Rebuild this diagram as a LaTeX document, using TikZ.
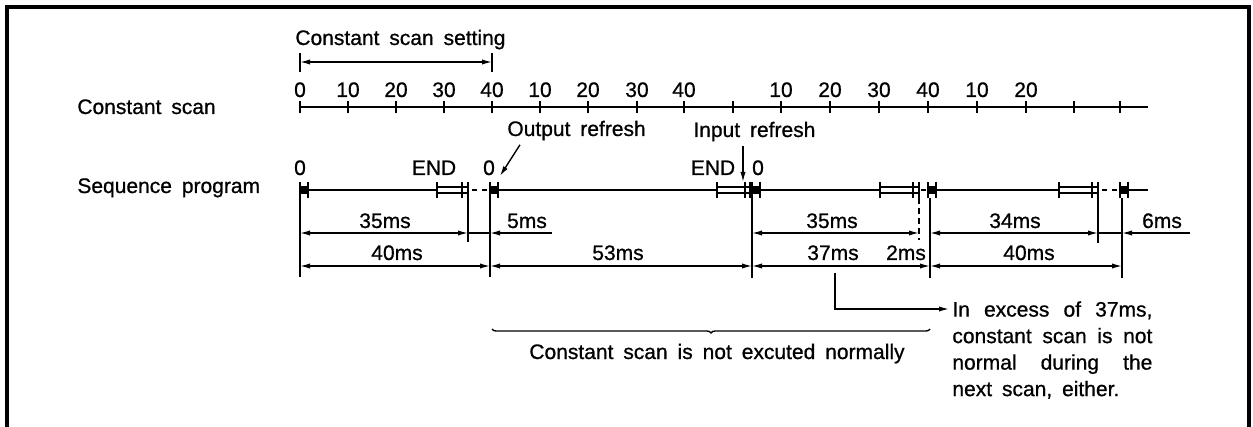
\documentclass[tikz,border=0pt]{standalone}
\usepackage{fontspec}
\setmainfont{Liberation Sans}[WordSpace=1.7, FakeBold=0.8]
\usetikzlibrary{arrows.meta,positioning,decorations.pathreplacing}
\tikzset{
  lbl/.style    = {inner sep=0pt, font=\fontsize{10.5}{12}\selectfont},
  arr/.style    = {-{Latex[length=5pt,width=2.6pt]}, line width=0.7pt},
  dimarr/.style = {{Latex[length=5pt,width=2.6pt]}-{Latex[length=5pt,width=2.6pt]}, line width=0.7pt},
  ext/.style    = {line width=0.8pt},
  axis/.style   = {line width=1.1pt},
  bar/.style    = {line width=1.2pt},
}

\begin{document}
\begin{tikzpicture}[x=0.5pt,y=-0.5pt]
  \useasboundingbox (0,0) rectangle (1253,427);
  \draw[line width=1.7pt] (7,427) -- (7,7) -- (1249,7) -- (1249,427);

  % row titles
  \node[lbl, anchor=base west] (cs) at (77,114) {Constant scan};
  \node[lbl, anchor=base west] (sp) at (77,193) {Sequence program};

  % setting
  \node[lbl, anchor=base west] (set) at (295,45) {Constant scan setting};
  \coordinate (set0) at (300,62); \coordinate (set40) at (492,62);
  \draw[bar] (300,53) -- (300,72) (492,53) -- (492,72);
  \draw[dimarr] (set0) -- (set40);

  % constant scan axis
  \draw[axis] (300,107) -- (1148,107);
  \foreach \x/\t in {300/0,348/10,396/20,444/30,492/40,540/10,588/20,637/30,684/40,733/{},
                     781/10,830/20,879/30,928/40,977/10,1026/20,1074/{},1120/{}}{
    \draw[axis] (\x,101) -- (\x,113);
    \node[lbl, anchor=base] (t\x) at (\x,97) {\t};
  }

  % sequence program line
  \draw[axis] (300,190) -- (437,190) (498,190) -- (717,190) (760,190) -- (880,190)
              (936,190) -- (1059,190) (1128,190) -- (1148,190);
  \draw[axis, dash pattern=on 2.5pt off 2.5pt] (472,190) -- (490,190) (1102,190) -- (1120,190)
              (921,190) -- (928,190);
  \foreach \x in {300,490,752,928,1120}{
    \fill (\x,186) rectangle ++(8,8);
    \draw[bar] (\x,182) -- (\x,198) ({\x+8},182) -- ({\x+8},198);
  }
  \foreach \a/\b/\c in {437/462/468,717/745/750,880/913/919,1059/1092/1098}{
    \draw[ext] (\a,187) -- (\c,187) (\a,193) -- (\c,193);
    \draw[bar] (\a,182) -- (\a,198) (\b,182) -- (\b,198) (\c,182) -- (\c,198);
  }
  \node[lbl, anchor=base] (z1) at (300,175) {0};
  \node[lbl, anchor=base] (e1) at (434,175) {END};
  \node[lbl, anchor=base] (z2) at (489,175) {0};
  \node[lbl, anchor=base] (e2) at (713,175) {END};
  \node[lbl, anchor=base] (z3) at (758,175) {0};

  % refresh
  \node[lbl, anchor=base west] (outref) at (507,136) {Output refresh};
  \node[lbl, anchor=base west] (inref) at (693,137) {Input refresh};
  \coordinate (outtip) at (500,176); \coordinate (intip) at (743,182);
  \draw[arr] (outref.south west) ++(13,4) -- (outtip);
  \draw[arr] (inref.south west) ++(50,4) -- (intip);

  % extension lines
  \foreach \x/\b in {300/277,468/242,490/277,752/278,930/278,1098/243,1122/278}
    \draw[ext] (\x,198) -- (\x,\b);
  \draw[ext, densely dashed] (919,198) -- (919,240);

  % first dimension row
  \draw[dimarr] (300,233) -- (468,233);
  \draw[ext] (468,233) -- (490,233);
  \draw[arr] (552,233) -- (490,233);
  \draw[dimarr] (752,233) -- (919,233);
  \draw[dimarr] (930,233) -- (1098,233);
  \draw[ext] (1098,233) -- (1122,233);
  \draw[arr] (1190,233) -- (1122,233);
  \node[lbl, anchor=base] (d35a) at (385,228) {35ms};
  \node[lbl, anchor=base] (d5) at (527,228) {5ms};
  \node[lbl, anchor=base] (d35b) at (832,228) {35ms};
  \node[lbl, anchor=base] (d34) at (1015,228) {34ms};
  \node[lbl, anchor=base] (d6) at (1162,228) {6ms};

  % second dimension row
  \draw[dimarr] (300,266) -- (490,266);
  \draw[dimarr] (490,266) -- (752,266);
  \draw[dimarr] (752,266) -- (930,266);
  \draw[dimarr] (930,266) -- (1122,266);
  \node[lbl, anchor=base] (d40a) at (397,260) {40ms};
  \node[lbl, anchor=base] (d53) at (618,260) {53ms};
  \node[lbl, anchor=base] (d37) at (833,260) {37ms};
  \node[lbl, anchor=base] (d2) at (906,260) {2ms};
  \node[lbl, anchor=base] (d40b) at (1029,260) {40ms};

  % not normal
  \draw[decorate, decoration={brace, mirror, amplitude=2pt}, line width=0.7pt] (492,329) -- (930,329);
  \node[lbl, anchor=base] (notnorm) at (717,359) {Constant scan is not excuted normally};

  % callout
  \coordinate (c37) at (835,273);
  \coordinate (ex) at (949,309);
  \draw[arr] (c37) |- (ex);
  \node[lbl, anchor=north west, text width=100pt, align=justify,
        font=\fontsize{10.5}{13.25}\selectfont] (excess) at (952,301)
    {In excess of 37ms,\linebreak constant scan is not\linebreak normal during the\linebreak next scan, either.};
\end{tikzpicture}
\end{document}
